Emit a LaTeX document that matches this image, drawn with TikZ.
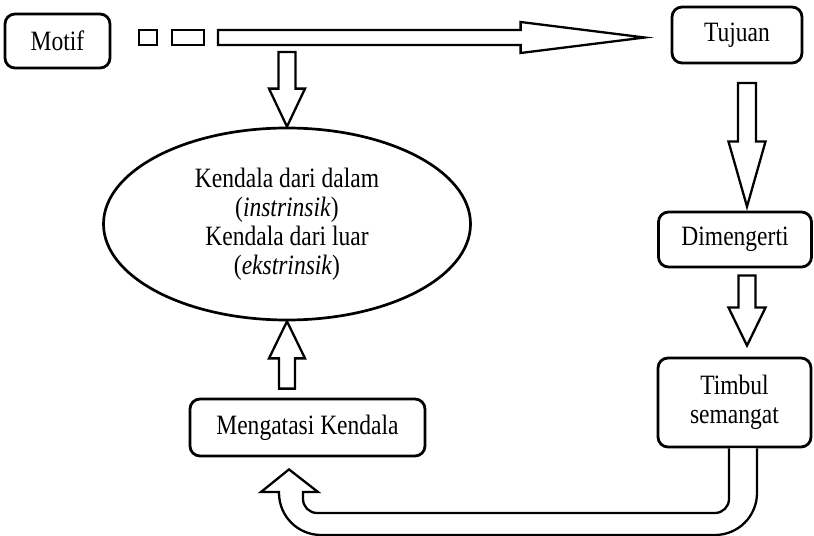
\documentclass[tikz,border=0pt]{standalone}
\usepackage{fontspec}
\setmainfont{Liberation Serif}[FakeStretch=0.84]
\usetikzlibrary{calc,shapes.geometric}
\tikzset{
  flowbox/.style={draw, rounded corners=10bp, line width=2.8bp, inner sep=0pt, align=center,
    font=\fontsize{28bp}{29bp}\selectfont},
  kendalashape/.style={draw, ellipse, line width=2.7bp, inner sep=0pt, align=center,
    font=\fontsize{28bp}{29bp}\selectfont},
  hollow/.style={draw, line width=2.3bp, line join=miter, fill=white},
}
% from, to, shaft half width, head half width, head length
\newcommand{\hollowarrow}[5]{%
  \coordinate (ah) at ($(#2)!#5!(#1)$);
  \draw[hollow] ($(#1)!#3!90:(#2)$) -- ($(ah)!#3!90:(#2)$) -- ($(ah)!#4!90:(#2)$) -- (#2)
    -- ($(ah)!#4!-90:(#2)$) -- ($(ah)!#3!-90:(#2)$) -- ($(#1)!#3!-90:(#2)$) -- cycle;
}
\begin{document}
\begin{tikzpicture}[>=latex,line join=bevel,x=1bp,y=-1bp]
  \useasboundingbox (0,0) rectangle (814,536);
%%
\pgfsetcolor{black}
  % Node: motif
\begin{scope}
  \definecolor{strokecol}{rgb}{0.0,0.0,0.0};
  \pgfsetstrokecolor{strokecol}
  \node[flowbox, minimum width=105bp, minimum height=54bp] (motif) at (57.5,41) {Motif};
\end{scope}
  % Node: tujuan
\begin{scope}
  \definecolor{strokecol}{rgb}{0.0,0.0,0.0};
  \pgfsetstrokecolor{strokecol}
  \node[flowbox, minimum width=130bp, minimum height=56bp] (tujuan) at (737,35) {Tujuan};
\end{scope}
  % Node: kendala
\begin{scope}
  \definecolor{strokecol}{rgb}{0.0,0.0,0.0};
  \pgfsetstrokecolor{strokecol}
  \node[kendalashape, minimum width=367bp, minimum height=192bp] (kendala) at (287,224)
    {Kendala dari dalam\\(\textit{instrinsik})\\Kendala dari luar\\(\textit{ekstrinsik})};
\end{scope}
  % Node: dimengerti
\begin{scope}
  \definecolor{strokecol}{rgb}{0.0,0.0,0.0};
  \pgfsetstrokecolor{strokecol}
  \node[flowbox, minimum width=153bp, minimum height=55bp] (dimengerti) at (735,239.5) {Dimengerti};
\end{scope}
  % Node: timbul
\begin{scope}
  \definecolor{strokecol}{rgb}{0.0,0.0,0.0};
  \pgfsetstrokecolor{strokecol}
  \node[flowbox, minimum width=153bp, minimum height=89bp] (timbul) at (734.5,402.5) {Timbul\\semangat};
\end{scope}
  % Node: mengatasi
\begin{scope}
  \definecolor{strokecol}{rgb}{0.0,0.0,0.0};
  \pgfsetstrokecolor{strokecol}
  \node[flowbox, minimum width=235bp, minimum height=57bp] (mengatasi) at (307.5,427.5) {Mengatasi Kendala};
\end{scope}
%
  % Edge: motif -> tujuan
  \coordinate (motiftail) at (218,37.5);
  \coordinate (tujuantip) at ($(tujuan.west)+(-26,2.5)$);
  \draw[hollow] (139,30) rectangle (157,45);
  \draw[hollow] (172,30) rectangle (204,45);
  \hollowarrow{motiftail}{tujuantip}{7.5bp}{15.5bp}{124bp}
  % Edge: motif -> kendala
  \coordinate (kendalatail) at (287,52);
  \hollowarrow{kendalatail}{kendala.north}{8.5bp}{18bp}{38bp}
  % Edge: tujuan -> dimengerti
  \coordinate (tujuantail) at (747,83);
  \coordinate (dimengertitip) at ($(dimengerti.north)+(12,-4)$);
  \hollowarrow{tujuantail}{dimengertitip}{9bp}{18.5bp}{65bp}
  % Edge: dimengerti -> timbul
  \coordinate (dimengertitail) at ($(dimengerti.south)+(12,7)$);
  \coordinate (timbultip) at ($(timbul.north)+(12.5,-11)$);
  \hollowarrow{dimengertitail}{timbultip}{8.5bp}{18.5bp}{38bp}
  % Edge: mengatasi -> kendala
  \coordinate (mengatasitail) at ($(mengatasi.north)+(-20.5,-9)$);
  \hollowarrow{mengatasitail}{kendala.south}{8bp}{18bp}{37bp}
  % Edge: timbul -> mengatasi
  \coordinate (timbulin) at ($(timbul.south)+(-5.5,0)$);
  \coordinate (timbulout) at ($(timbul.south)+(22.5,0)$);
  \coordinate (mengatasitip) at ($(mengatasi.south)+(-18.5,12)$);
  \draw[hollow] (timbulin) [rounded corners=14bp] -- (timbulin |- 0,513) -- (303,513)
    [sharp corners] -- (303,492) -- (318,492) -- (mengatasitip) -- (261,492) -- (279,492)
    [rounded corners=42bp] -- (279,535) -- (timbulout |- 0,535) [sharp corners] -- (timbulout);
%
\end{tikzpicture}
\end{document}
